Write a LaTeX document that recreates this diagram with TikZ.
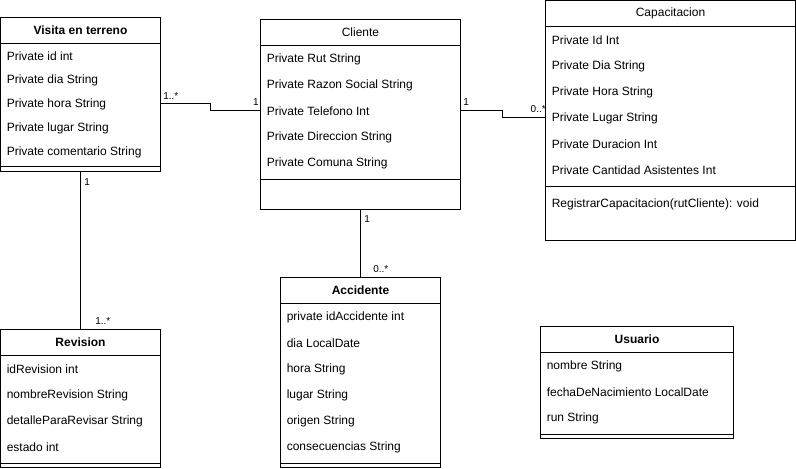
\documentclass[tikz,border=0pt]{standalone}
\usepackage{fontspec}
\setmainfont{Liberation Sans}
\usetikzlibrary{calc}

% one unit = one pixel, y grows downwards
\tikzset{
  classbox/.style={draw, line width=0.75pt, inner sep=0pt, outer sep=0pt,
                   anchor=north west, fill=white},
  classtitle/.style={font=\fontsize{9}{11}\selectfont, inner sep=0pt, anchor=center},
  boldtitle/.style={classtitle, font=\fontsize{9}{11}\selectfont\bfseries},
  attr/.style={font=\fontsize{9}{11}\selectfont, inner sep=0pt, anchor=west},
  mult/.style={font=\fontsize{7.5}{9}\selectfont, inner sep=0pt},
  conn/.style={line width=0.75pt},
}

% frame of a class: name, x, y, width, height (pixels)
\newcommand\classframe[5]{%
  \node[classbox, minimum width=#4*0.75pt, minimum height=#5*0.75pt] (#1) at (#2,#3) {};}
% horizontal rule inside a class, offset from its top
\newcommand\classrule[2]{%
  \draw[conn] ($(#1.north west)+(0,#2)$) -- ($(#1.north east)+(0,#2)$);}
% one text row of a class: class, row name, offset from top, text
\newcommand\classrow[4]{%
  \node[attr] (#1-#2) at ($(#1.north west)+(6,#3+1.2)$) {#4};}

\begin{document}
\begin{tikzpicture}[x=0.75pt, y=-0.75pt]
  \fill[white] (0,0) rectangle (796,468);
  \useasboundingbox (0,0) rectangle (796,468);

  % Visita en terreno
  \classframe{visita}{0.5}{17.5}{160}{153.5}
  \node[boldtitle] (visita-title) at ($(visita.north)+(0,13)$) {Visita en terreno};
  \classrule{visita}{26}
  \classrow{visita}{a1}{38}{Private id int}
  \classrow{visita}{a2}{62}{Private dia String}
  \classrow{visita}{a3}{86}{Private hora String}
  \classrow{visita}{a4}{110}{Private lugar String}
  \classrow{visita}{a5}{134}{Private comentario String}
  \classrule{visita}{149}

  % Cliente
  \classframe{cliente}{260.5}{19.5}{200}{190}
  \node[classtitle] (cliente-title) at ($(cliente.north)+(0,13)$) {Cliente};
  \classrule{cliente}{26}
  \classrow{cliente}{a1}{39}{Private Rut String}
  \classrow{cliente}{a2}{65}{Private Razon Social String}
  \classrow{cliente}{a3}{91}{Private Telefono Int}
  \classrow{cliente}{a4}{117}{Private Direccion String}
  \classrow{cliente}{a5}{143}{Private Comuna String}
  \classrule{cliente}{160}

  % Capacitacion
  \classframe{capac}{545.5}{0.5}{250}{240}
  \node[classtitle] (capac-title) at ($(capac.north)+(0,13)$) {Capacitacion};
  \classrule{capac}{26}
  \classrow{capac}{a1}{39}{Private Id Int}
  \classrow{capac}{a2}{65}{Private Dia String}
  \classrow{capac}{a3}{91}{Private Hora String}
  \classrow{capac}{a4}{117}{Private Lugar String}
  \classrow{capac}{a5}{143}{Private Duracion Int}
  \classrow{capac}{a6}{169}{Private Cantidad Asistentes Int}
  \classrule{capac}{186}
  \classrow{capac}{m1}{203}{RegistrarCapacitacion(rutCliente): void}

  % Revision
  \classframe{revision}{0.5}{329.5}{160}{137.5}
  \node[boldtitle] (revision-title) at ($(revision.north)+(0,13)$) {Revision};
  \classrule{revision}{26}
  \classrow{revision}{a1}{39}{idRevision int}
  \classrow{revision}{a2}{65}{nombreRevision String}
  \classrow{revision}{a3}{91}{detalleParaRevisar String}
  \classrow{revision}{a4}{117}{estado int}
  \classrule{revision}{133.5}

  % Accidente
  \classframe{accidente}{280.5}{277.5}{160}{189.5}
  \node[boldtitle] (accidente-title) at ($(accidente.north)+(0,13)$) {Accidente};
  \classrule{accidente}{26}
  \classrow{accidente}{a1}{39}{private idAccidente int}
  \classrow{accidente}{a2}{65}{dia LocalDate}
  \classrow{accidente}{a3}{91}{hora String}
  \classrow{accidente}{a4}{117}{lugar String}
  \classrow{accidente}{a5}{143}{origen String}
  \classrow{accidente}{a6}{169}{consecuencias String}
  \classrule{accidente}{185.5}

  % Usuario
  \classframe{usuario}{540.5}{326.5}{193}{112}
  \node[boldtitle] (usuario-title) at ($(usuario.north)+(0,13)$) {Usuario};
  \classrule{usuario}{26}
  \classrow{usuario}{a1}{39}{nombre String}
  \classrow{usuario}{a2}{65}{fechaDeNacimiento LocalDate}
  \classrow{usuario}{a3}{91}{run String}
  \classrule{usuario}{108}

  % associations
  \coordinate (vc-start) at ($(visita.north east)+(0,86)$);
  \coordinate (vc-end) at ($(cliente.north west)+(0,91)$);
  \draw[conn] (vc-start) -- ++(50,0) |- (vc-end);

  \coordinate (cc-start) at ($(cliente.north east)+(0,91)$);
  \coordinate (cc-end) at ($(capac.north west)+(0,117)$);
  \draw[conn] (cc-start) -- ++(42,0) |- (cc-end);

  \draw[conn] (visita.south) -- (revision.north);
  \draw[conn] (cliente.south) -- (accidente.north);

  % multiplicities
  \node[mult, anchor=west] (m-vc-a) at (163,96) {1..*};
  \node[mult, anchor=east] (m-vc-b) at (259,102) {1};
  \node[mult, anchor=west] (m-cc-a) at (463,102) {1};
  \node[mult, anchor=east] (m-cc-b) at (546,109) {0..*};
  \node[mult, anchor=west] (m-vr-a) at (84,182) {1};
  \node[mult, anchor=west] (m-vr-b) at (95,321) {1..*};
  \node[mult, anchor=west] (m-ca-a) at (364,219) {1};
  \node[mult, anchor=west] (m-ca-b) at (373,269) {0..*};
\end{tikzpicture}
\end{document}
